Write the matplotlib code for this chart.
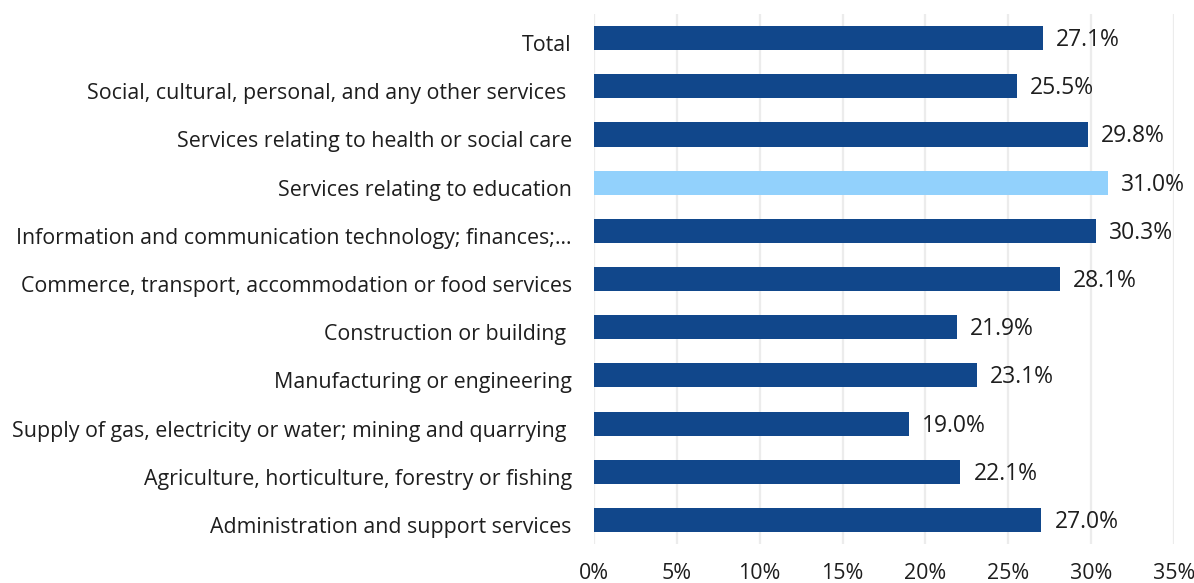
import matplotlib.pyplot as plt
import matplotlib.transforms as mtransforms
from matplotlib.ticker import FuncFormatter

plt.rcParams['font.family'] = ['Open Sans', 'DejaVu Sans']

# sectors, bottom to top
sectors = [
    "Administration and support services",
    "Agriculture, horticulture, forestry or fishing",
    "Supply of gas, electricity or water; mining and quarrying ",
    "Manufacturing or engineering",
    "Construction or building ",
    "Commerce, transport, accommodation or food services",
    "Information and communication technology; finances;\u2026",
    "Services relating to education",
    "Services relating to health or social care",
    "Social, cultural, personal, and any other services ",
    "Total",
]
shares = [27.0, 22.1, 19.0, 23.1, 21.9, 28.1, 30.3, 31.0, 29.8, 25.5, 27.1]
highlight = "Services relating to education"

dark = '#11478b'
light = '#92d1fc'
colors = [light if s == highlight else dark for s in sectors]
txt = '#1e1e1e'

fig = plt.figure(figsize=(11.94, 5.83), dpi=100)
ax = fig.add_axes([594 / 1194, 1 - 544 / 583, 580 / 1194, 530 / 583])

ypos = range(len(sectors))
ax.barh(ypos, shares, height=0.5, color=colors, zorder=3)
val_shift = mtransforms.ScaledTranslation(0, -2 / 100, fig.dpi_scale_trans)
for y, v in zip(ypos, shares):
    ax.text(v + 0.8, y, f'{v:.1f}%', va='center', ha='left',
            fontsize=16.5, color=txt, transform=ax.transData + val_shift)

ax.set_xlim(0, 35)
ax.set_ylim(-0.5, len(sectors) - 0.5)
ax.set_xticks(range(0, 36, 5))
ax.xaxis.set_major_formatter(FuncFormatter(lambda x, _: f'{x:.0f}%'))
ax.set_yticks(list(ypos))
ax.set_yticklabels(sectors)
ax.tick_params(axis='y', length=0, pad=16, labelsize=15.4, labelcolor=txt)
ax.tick_params(axis='x', length=0, pad=14, labelsize=15.4, labelcolor=txt)

# category labels sit a little below the bar centre
lab_shift = mtransforms.ScaledTranslation(0, -5 / 100, fig.dpi_scale_trans)
for lab in ax.get_yticklabels():
    lab.set_transform(lab.get_transform() + lab_shift)

ax.grid(axis='x', color='#ececec', linewidth=1.6, zorder=0)
for side in ax.spines.values():
    side.set_visible(False)

fig.savefig('out.png', dpi=100)
